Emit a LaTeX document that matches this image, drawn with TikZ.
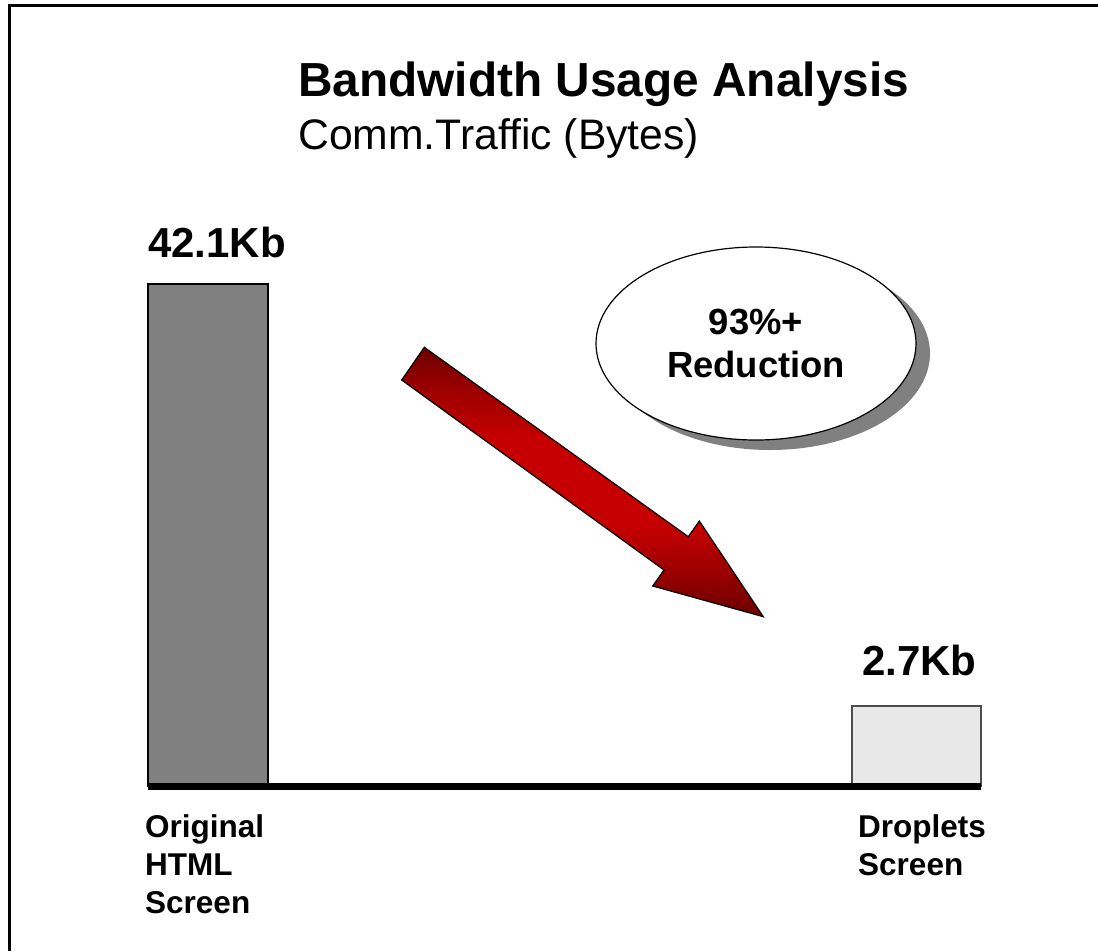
\documentclass[tikz,border=0pt]{standalone}
\usepackage{fontspec}
\setmainfont{Liberation Sans}
\usetikzlibrary{shapes.geometric,shadows}

\definecolor{darkred}{HTML}{6B0000}
\definecolor{brightred}{HTML}{C60000}
\definecolor{bargray}{HTML}{808080}
\definecolor{barlight}{HTML}{E8E8E8}

% red band, dark at both ends (the path fills 25bp--75bp)
\pgfdeclareverticalshading{arrowred}{100bp}{color(0bp)=(darkred);
    color(25bp)=(darkred); color(33bp)=(darkred!50!brightred);
    color(42bp)=(brightred); color(58bp)=(brightred);
    color(68bp)=(darkred!50!brightred); color(75bp)=(darkred);
    color(100bp)=(darkred)}

\begin{document}
\begin{tikzpicture}[x=1pt,y=-1pt,
    lbl/.style={anchor=base west,inner sep=0pt,align=left,
        font=\bfseries\fontsize{31.5}{38}\selectfont},
    val/.style={anchor=base west,inner sep=0pt,
        font=\bfseries\fontsize{42}{50}\selectfont}]

    \useasboundingbox (0,0) rectangle (1098,951);

    % Frame
    \draw[line width=2.5pt] (9.5,951) -- (9.5,5.5) -- (1098,5.5);

    % Title
    \node[anchor=base west,inner sep=0pt,
        font=\bfseries\fontsize{47.8}{57}\selectfont] (title) at (298,96)
        {Bandwidth Usage Analysis};
    \node[anchor=base west,inner sep=0pt,
        font=\fontsize{42.7}{51}\selectfont] (subtitle) at (298,149)
        {Comm.Traffic (Bytes)};

    % Bars
    \draw[fill=bargray,line width=1.5pt] (148,786) rectangle (268,284);
    \draw[fill=barlight,line width=1.5pt,draw=black!70] (852,786) rectangle (981,706);

    % Axis
    \draw[line width=7pt] (148,786.5) -- (981,786.5);

    % Bar values
    \node[val] (big) at (148,257) {42.1Kb};
    \node[val] (small) at (862,675) {2.7Kb};

    % Bar labels (anchored at the last line)
    \node[lbl] (orig) at (145,913) {Original\\HTML\\Screen};
    \node[lbl] (drop) at (858,875) {Droplets\\Screen};

    % Block arrow
    \shade[shading=arrowred,draw=black,line width=1.2pt]
        (424.3,347.3) -- (688.3,536.7) -- (699.3,521) -- (763.3,616.7)
        -- (652.7,586) -- (664,570) -- (401.7,380) -- cycle;

    % Reduction bubble
    \node[ellipse,draw,fill=white,line width=1.2pt,
        minimum width=320,minimum height=193,align=center,
        font=\bfseries\fontsize{36.4}{43}\selectfont,
        drop shadow={shadow xshift=14pt,shadow yshift=-10pt,
            fill=bargray,opacity=1}] (reduction) at (756,343.5)
        {93\%+\\Reduction};

\end{tikzpicture}
\end{document}
